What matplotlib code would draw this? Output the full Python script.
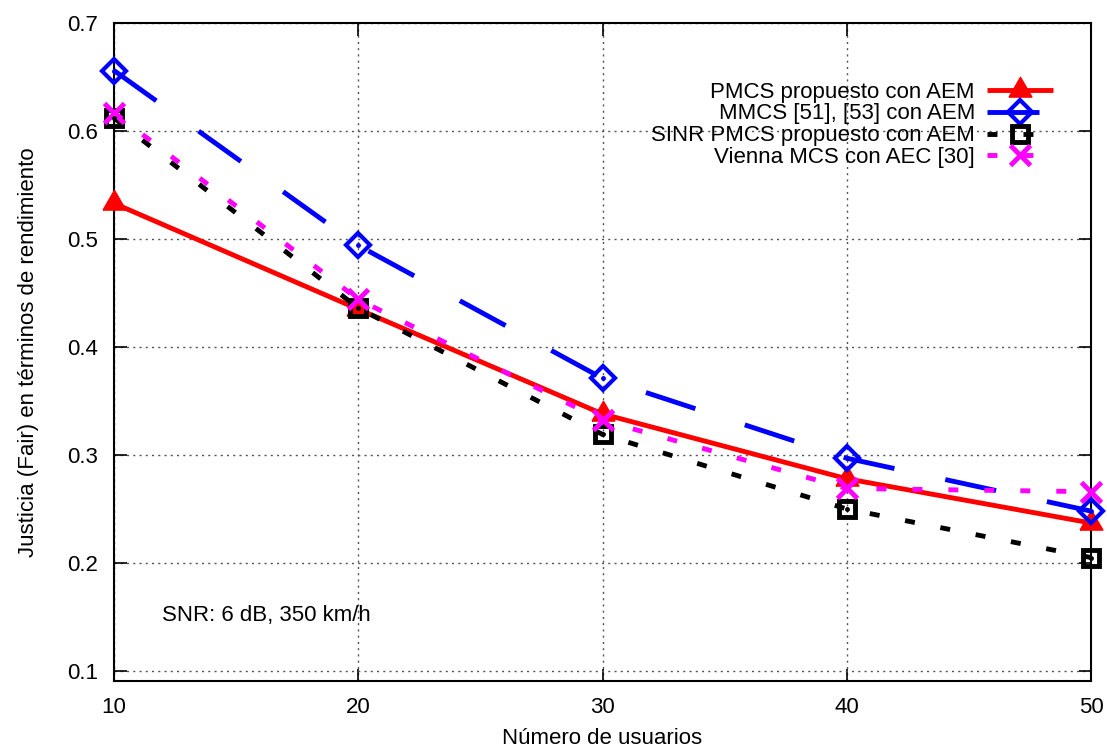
import matplotlib
matplotlib.use("Agg")
import matplotlib.pyplot as plt

plt.rcParams['font.family'] = ['Liberation Sans', 'DejaVu Sans']

usuarios = [10, 20, 30, 40, 50]
pmcs_aem = [0.533, 0.435, 0.338, 0.278, 0.237]
mmcs_aem = [0.656, 0.494, 0.371, 0.297, 0.248]
sinr_pmcs_aem = [0.612, 0.436, 0.319, 0.250, 0.205]
vienna_aec = [0.617, 0.444, 0.332, 0.269, 0.266]

labels = ["PMCS propuesto con AEM", "MMCS [51], [53] con AEM",
          "SINR PMCS propuesto con AEM", "Vienna MCS con AEC [30]"]

FS = 16
# equilateral triangle centred on its centroid
tri = [(-1, -0.577), (1, -0.577), (0, 1.155), (-1, -0.577)]

fig = plt.figure(figsize=(11.07, 7.49), dpi=100)
ax = fig.add_axes([114 / 1107, (749 - 681) / 749, (1091 - 114) / 1107, (681 - 23) / 749])

ax.plot(usuarios, pmcs_aem, color='#ff0000', lw=3.5, marker=tri, markersize=19,
        solid_capstyle='butt', label=labels[0], zorder=3, clip_on=False)
ax.plot(usuarios, mmcs_aem, color='#0000ff', lw=3.5, dashes=(10.7, 10.7),
        dash_capstyle='butt', marker='D', markersize=12.5, markerfacecolor='none',
        markeredgewidth=3, label=labels[1], zorder=3, clip_on=False)
ax.plot(usuarios, sinr_pmcs_aem, color='black', lw=3.5, dashes=(2.05, 5.35),
        dash_capstyle='butt', marker='s', markersize=12, markerfacecolor='none',
        markeredgewidth=3.5, label=labels[2], zorder=3, clip_on=False)
ax.plot(usuarios, vienna_aec, color='#ff00ff', lw=3.5, dashes=(2.05, 5.35),
        dash_capstyle='butt', marker='x', markersize=15, markeredgewidth=3.5,
        label=labels[3], zorder=4, clip_on=False)
# centre dots of the open markers
ax.plot(usuarios, mmcs_aem, ls='none', marker='o', markersize=2.5, color='#0000ff',
        zorder=4, clip_on=False)
ax.plot(usuarios, sinr_pmcs_aem, ls='none', marker='o', markersize=2.5, color='black',
        zorder=4, clip_on=False)

ax.set_xlim(10, 50)
ax.set_ylim(0.0907, 0.7)
ax.set_xticks([10, 20, 30, 40, 50])
ax.set_yticks([0.1, 0.2, 0.3, 0.4, 0.5, 0.6, 0.7])
ax.set_yticklabels(["0.1", "0.2", "0.3", "0.4", "0.5", "0.6", "0.7"])

ax.grid(True, color='#555555', lw=1, ls=(0, (1.5, 3)))
ax.set_axisbelow(True)
for s in ax.spines.values():
    s.set_linewidth(1.5)
ax.tick_params(direction='in', length=9, width=1.2, top=True, right=True,
               labelsize=FS)
ax.tick_params(axis='y', pad=11.5)
ax.tick_params(axis='x', pad=11.5)

ax.set_xlabel("Número de usuarios", fontsize=FS)
ax.set_ylabel("Justicia (Fair) en términos de rendimiento", fontsize=FS)
ax.xaxis.set_label_coords(0.5, -0.071)
ax.yaxis.set_label_coords(-0.077, 0.5)

ax.text(11.95, 0.151, "SNR: 6 dB, 350 km/h", fontsize=FS, ha='left', va='center')

leg = ax.legend(loc='upper right', bbox_to_anchor=(0.961, 0.911), frameon=False,
                markerfirst=False, fontsize=FS, handlelength=2.97, handletextpad=0.54,
                labelspacing=0.04, borderpad=0, borderaxespad=0)
for col in leg._legend_handle_box.get_children():
    col.align = "right"

fig.savefig("out.png", dpi=100)
